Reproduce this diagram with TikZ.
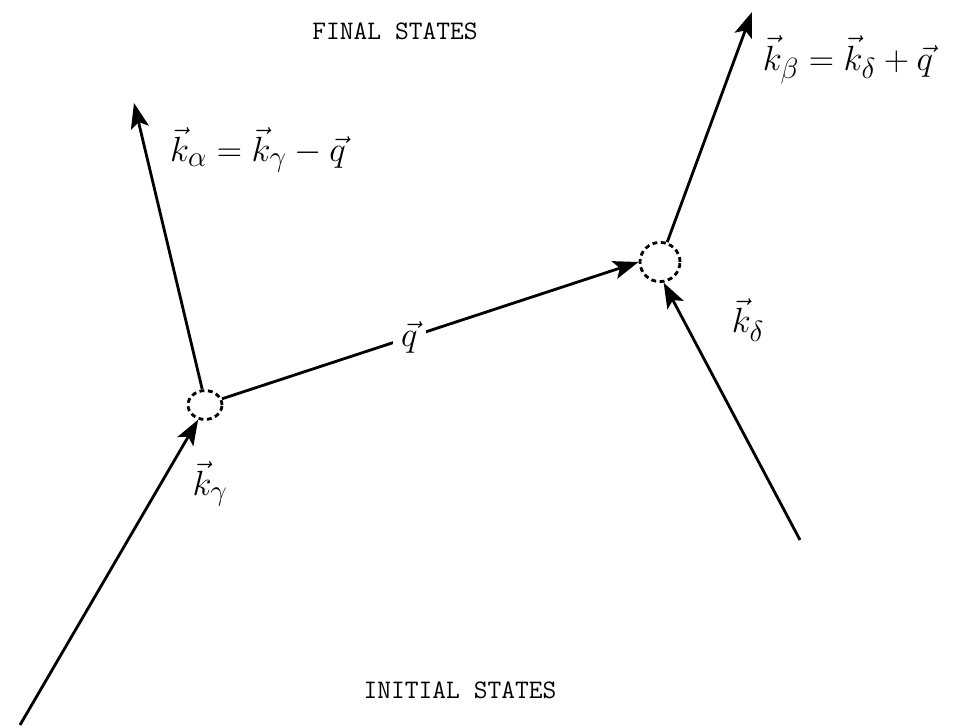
\documentclass[tikz,border=0pt]{standalone}
\usepackage{amsmath,amssymb}
\usepackage{tikz}
\usetikzlibrary{arrows.meta,positioning,calc,shapes.geometric}
\usepackage{xcolor}

\tikzset{
  line/.style={line width=2pt},
  tip/.style={-{Stealth[length=18pt, width=13pt, inset=4pt]}},
  vertex/.style={draw, line width=2pt, dash pattern=on 3.5pt off 2.5pt, ellipse, inner sep=0pt},
  lbl/.style={font=\fontsize{29}{32}\selectfont},
  states/.style={font=\ttfamily\fontsize{19}{22}\selectfont}
}

\begin{document}
\begin{tikzpicture}[x=0.025cm, y=-0.025cm]
            \useasboundingbox (0,0) rectangle (955,728);
            % Vertices
            \node[vertex, minimum width=0.85cm, minimum height=0.72cm] (vl) at (205,405) {};
            \node[vertex, minimum width=1.0cm, minimum height=0.98cm] (vr) at (660,262) {};
            
            % Free ends
            \coordinate (gin) at (20,725);
            \coordinate (aout) at (134,103);
            \coordinate (din) at (800,540);
            \coordinate (bout) at (752,12);
            
            % Incoming lines
            \draw[line, tip] (gin) -- (vl.-115);
            \draw[line, tip] (din) -- (vr.-80);
            
            % Outgoing lines
            \draw[line, tip] (vl.100) -- (aout);
            \draw[line, tip] (vr.70) -- (bout);
            
            % Exchanged momentum
            \draw[line, tip] (vl.20) -- (vr.180) node[pos=0.45, fill=white, inner sep=6pt, lbl] (q) {$\vec{q}$};
            
            % Labels
            \node[lbl] (ka) at (258,150) {$\vec{k}_\alpha = \vec{k}_\gamma - \vec{q}$};
            \node[lbl] (kb) at (848,60) {$\vec{k}_\beta = \vec{k}_\delta + \vec{q}$};
            \node[lbl] (kd) at (748,320) {$\vec{k}_\delta$};
            \node[lbl] (kg) at (210,484) {$\vec{k}_\gamma$};
            
            % States
            \node[states] (fin) at (395,31) {FINAL STATES};
            \node[states] (ini) at (460,690) {INITIAL STATES};
        \end{tikzpicture}
\end{document}
